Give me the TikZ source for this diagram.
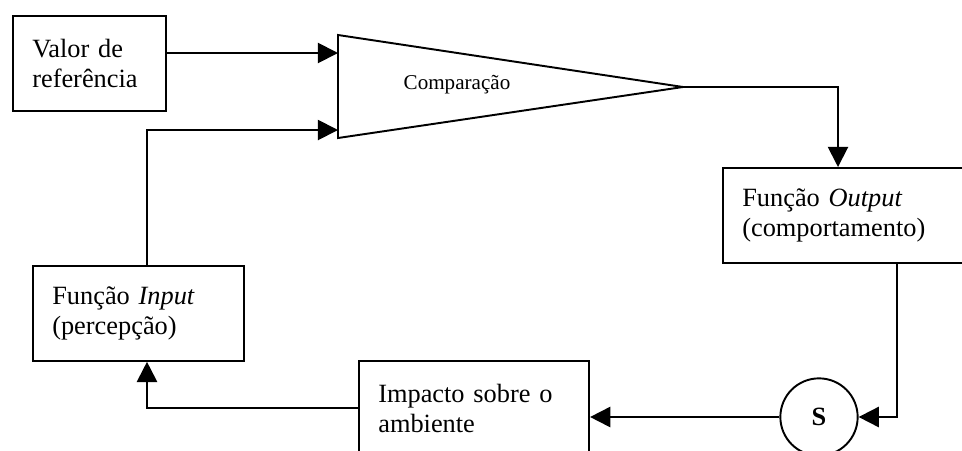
\documentclass[tikz,border=0pt]{standalone}
\usepackage{fontspec}
\setmainfont{Liberation Serif}
\usepackage{tikz}
\usetikzlibrary{arrows.meta,positioning,calc}

\begin{document}
\begin{tikzpicture}[
  x=0.02cm, y=-0.02cm,
  every node/.style={font=\fontsize{15}{17}\selectfont},
  blk/.style={rectangle,draw,line width=1.1pt,anchor=north west,align=left,
    inner xsep=11pt,inner ysep=0pt,minimum height=54pt},
  sum/.style={circle,draw,line width=1.1pt,minimum size=44pt,inner sep=0pt},
  arc/.style={-{Triangle[length=11.5pt,width=11.5pt]},line width=1.1pt}
]
\useasboundingbox (0,0) rectangle (962,450);
\clip (0,0) rectangle (962,450);

% blocks of the loop
\node[blk,text width=65pt] (ref) at (12,15) {Valor de\\referência};
\node[blk,text width=98pt] (in) at (32,265) {Função \textit{Input}\\(percepção)};
\node[blk,text width=122pt] (out) at (722,167) {Função \textit{Output}\\(comportamento)};
\node[blk,text width=109pt] (imp) at (358,360) {Impacto sobre o\\ambiente};
\node[sum,font=\fontsize{15}{17}\selectfont\bfseries] (s) at (819,417) {S};

% comparator
\coordinate (cmpT) at (338,35);
\coordinate (cmpB) at (338,138);
\coordinate (cmp) at (683,87);
\draw[line width=1.1pt,line join=miter] (cmpT) -- (cmp) -- (cmpB) -- cycle;
\node[font=\fontsize{12}{14}\selectfont] (cmplbl) at (457,85) {Comparação};
\coordinate (inA) at (338,53);
\coordinate (inB) at (338,130);

% bends of the connectors
\coordinate (c1) at (147,130);
\coordinate (c2) at (838,87);
\coordinate (c3) at (897,417);
\coordinate (c4) at (147,408);

\draw[arc] (ref.east |- inA) -- (inA);
\draw[arc] (c1 |- in.north) -- (c1) -- (inB);
\draw[arc] (cmp) -- (c2) -- (c2 |- out.north);
\draw[arc] (c3 |- out.south) -- (c3) -- (s.east);
\draw[arc] (s.west) -- (s.west -| imp.east);
\draw[arc] (c4 -| imp.west) -- (c4) -- (c4 |- in.south);
\end{tikzpicture}
\end{document}
